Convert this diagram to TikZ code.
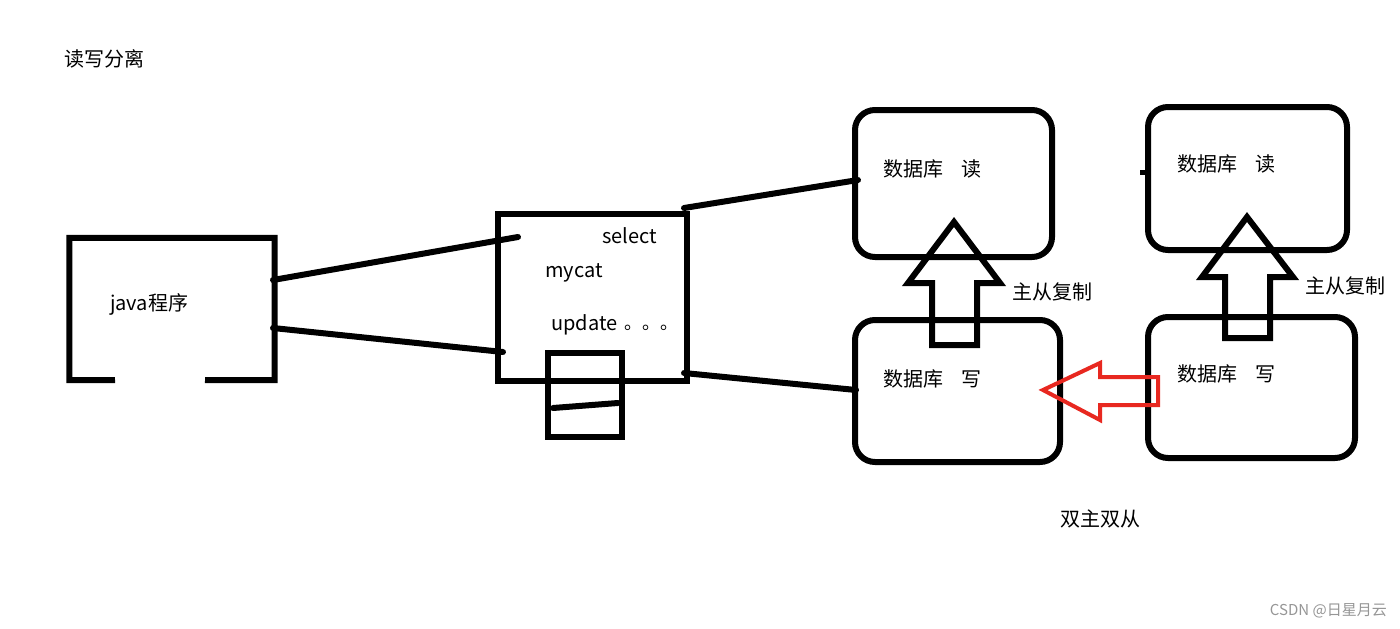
\documentclass[tikz,border=0pt]{standalone}
\usepackage{fontspec}
\setmainfont{Noto Sans CJK SC}
\usetikzlibrary{calc}
\definecolor{arrowred}{RGB}{232,40,32}
\definecolor{markgray}{RGB}{150,150,150}
\tikzset{
  box/.style={draw, line width=6pt, inner sep=0pt, rectangle},
  dbbox/.style={box, rounded corners=20pt},
  lbl/.style={font=\fontsize{20}{23}\selectfont, inner sep=0pt, anchor=west},
  conn/.style={line width=6pt, line cap=round},
  hollow/.style={line width=6pt, line join=miter},
}
\begin{document}
\begin{tikzpicture}[x=1pt,y=-1pt]
\useasboundingbox (0,0) rectangle (1400,629);
\fill[white] (0,0) rectangle (1400,629);

% title
\node[lbl] (title) at (64,59) {读写分离};

% java box (open at bottom)
\node[inner sep=0pt, minimum width=205pt, minimum height=142pt] (java) at (172,309) {};
\draw[line width=6pt, line join=miter] (115,380) -- (java.south west) -- (java.north west) -- (java.north east) -- (java.south east) -- (205,380);
\node[lbl] (javatxt) at (110,304) {java程序};

% mycat box
\node[box, minimum width=189pt, minimum height=167pt] (mycat) at (592.5,297.5) {};
\node[box, minimum width=74pt, minimum height=84pt] (cache) at (585,395) {};
\coordinate (cl) at (553,408);
\coordinate (cr) at (618,403);
\draw[conn] (cl) -- (cr);
\node[lbl] (select) at (602,236) {select};
\node[lbl] (mycattxt) at (545,273) {mycat};
\node[lbl] (update) at (551,325) {update};
\node[lbl, font=\fontsize{18}{20}\selectfont] (dots) at (624,328) {。。。};

% java -> mycat connectors
\coordinate (j1) at (273,280);
\coordinate (m1) at (518,237);
\coordinate (j2) at (273,328);
\coordinate (m2) at (503,352);
\draw[conn] (j1) -- (m1);
\draw[conn] (j2) -- (m2);

% database boxes
\node[dbbox, minimum width=197pt, minimum height=147pt] (r1) at (953.5,183.5) {};
\node[dbbox, minimum width=205pt, minimum height=142pt] (w1) at (957.5,391) {};
\node[dbbox, minimum width=199pt, minimum height=143pt] (r2) at (1247.5,178.5) {};
\node[dbbox, minimum width=207pt, minimum height=141pt] (w2) at (1251.5,387.5) {};

\node[lbl] (r1t) at (883,169) {数据库\hspace{0.9em}读};
\node[lbl] (w1t) at (883,379) {数据库\hspace{0.9em}写};
\node[lbl] (r2t) at (1177,164) {数据库\hspace{0.9em}读};
\node[lbl] (w2t) at (1177,374) {数据库\hspace{0.9em}写};

% mycat -> db connectors
\coordinate (m3) at (684,208);
\coordinate (d1) at (858,180);
\coordinate (m4) at (684,373);
\coordinate (d2) at (856,390);
\draw[conn] (m3) -- (d1);
\draw[conn] (m4) -- (d2);

% small tick on second read box
\coordinate (tk1) at (1140,172);
\coordinate (tk2) at (1149,172);
\draw[line width=5pt] (tk1) -- (tk2);

% hollow up arrows (master-slave replication)
\draw[hollow] (932,345) -- (932,283) -- (908,283) -- (954,222) -- (1000,283) -- (977,283) -- (977,345) -- cycle;
\draw[hollow] (1225,338) -- (1225,277) -- (1202,277) -- (1247,217) -- (1293,277) -- (1270,277) -- (1270,338) -- cycle;
\node[lbl] (rep1) at (1012,292) {主从复制};
\node[lbl] (rep2) at (1305,286) {主从复制};

% red hollow arrow from w2 to w1
\draw[arrowred, line width=4pt, line join=miter] (1043,390) -- (1100,363) -- (1100,377) -- (1158,377) -- (1158,405) -- (1100,405) -- (1100,420) -- cycle;

% caption
\node[lbl] (dual) at (1060,519) {双主双从};

% watermark
\node[anchor=east, inner sep=0pt, text=markgray, font=\fontsize{15}{17}\selectfont] (wm) at (1387,611) {CSDN @日星月云};
\end{tikzpicture}
\end{document}
